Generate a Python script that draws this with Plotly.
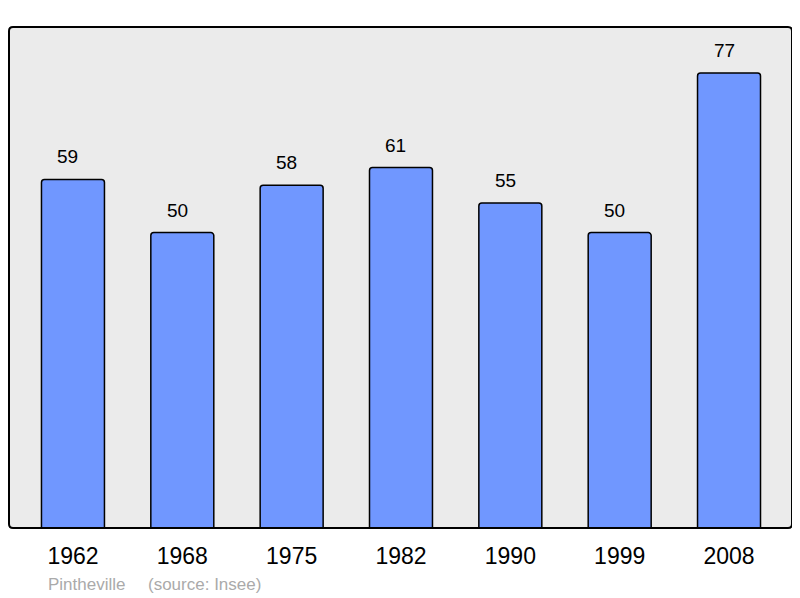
import plotly.graph_objects as go

years = ["1962", "1968", "1975", "1982", "1990", "1999", "2008"]
population = [59, 50, 58, 61, 55, 50, 77]
commune = "Pintheville"
source = "(source: Insee)"

xs = list(range(len(years)))
FONT = "Liberation Sans, Arial"

# The page body has an 8px default margin, so the figure is drawn 8px in.
OFF = 8
fig = go.Figure()
fig.add_trace(go.Bar(
    x=xs, y=population, width=0.576,
    marker=dict(color="#7097ff", line=dict(color="black", width=1.5), cornerradius=3),
    hoverinfo="skip",
))

for x, v in zip(xs, population):
    fig.add_annotation(x=x, y=v, text=str(v), showarrow=False, yanchor="bottom",
                       yshift=10, xshift=-5, font=dict(size=19, color="black", family=FONT))

W, H = 783, 501
rx, ry = 4 / W, 4 / H
path = (f"M {rx},0 L {1-rx},0 Q 1,0 1,{ry} L 1,{1-ry} Q 1,1 {1-rx},1 "
        f"L {rx},1 Q 0,1 0,{1-ry} L 0,{ry} Q 0,0 {rx},0 Z")
fig.add_shape(type="path", path=path, xref="paper", yref="paper",
              line=dict(color="black", width=2), fillcolor="rgba(0,0,0,0)", layer="above")

fig.add_annotation(xref="paper", yref="paper", x=(46 - 9) / W, y=-(584 - 528) / H,
                   xanchor="left", yanchor="middle", text=commune, showarrow=False,
                   font=dict(size=17, color="#aaaaaa", family=FONT))
fig.add_annotation(xref="paper", yref="paper", x=(146 - 9) / W, y=-(584 - 528) / H,
                   xanchor="left", yanchor="middle", text=source, showarrow=False,
                   font=dict(size=17, color="#aaaaaa", family=FONT))

fig.update_layout(
    width=800 - OFF, height=598 - OFF,
    margin=dict(l=9 - OFF, r=8, t=27 - OFF, b=70),
    paper_bgcolor="white", plot_bgcolor="#ebebeb",
    showlegend=False,
    xaxis=dict(range=[-0.585, 6.576], tickvals=xs, ticktext=years, showgrid=False,
               zeroline=False, showline=False, ticks="", ticklabelstandoff=12,
               tickfont=dict(size=23, color="black", family=FONT),
               fixedrange=True),
    yaxis=dict(range=[0, 84.8], showgrid=False, zeroline=False, showticklabels=False,
               showline=False, ticks="", fixedrange=True),
)

fig.write_html("out.html", config={"displayModeBar": False})
